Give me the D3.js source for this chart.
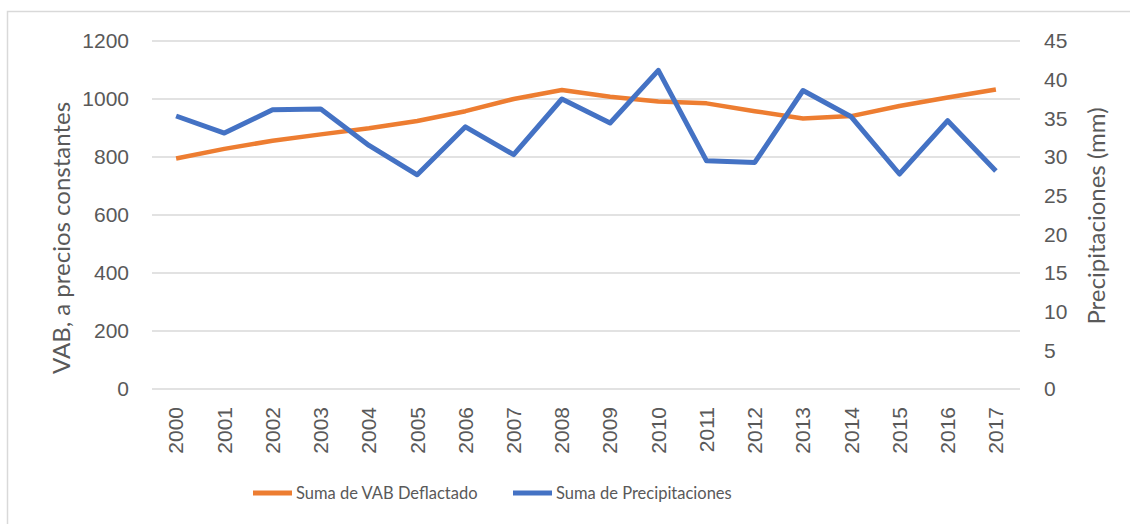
<!DOCTYPE html>
<html>
<head>
<meta charset="utf-8">
<script src="https://cdn.jsdelivr.net/npm/d3@7"></script>
<style>
  body { margin: 0; background: #fff; }
  svg { display: block; font-family: Lato, "Open Sans", sans-serif; }
  .tick text { fill: #595959; }
</style>
</head>
<body>
<div id="chart"></div>
<script>
var years = ['2000', '2001', '2002', '2003', '2004', '2005', '2006', '2007', '2008',
  '2009', '2010', '2011', '2012', '2013', '2014', '2015', '2016', '2017'];

// Suma de VAB Deflactado (left axis)
var vab = [795, 828, 856, 878, 899, 924, 958, 1000, 1031,
  1008, 991, 985, 958, 933, 941, 976, 1005, 1033];

// Suma de Precipitaciones, mm (right axis)
var precip = [35.3, 33.1, 36.1, 36.2, 31.5, 27.7, 33.9, 30.3, 37.5,
  34.4, 41.2, 29.5, 29.3, 38.6, 35.2, 27.8, 34.7, 28.2];

var leftTicks = [0, 200, 400, 600, 800, 1000, 1200];
var rightTicks = [0, 5, 10, 15, 20, 25, 30, 35, 40, 45];

var seriesNames = ['Suma de VAB Deflactado', 'Suma de Precipitaciones'];
var colors = ['#ED7D31', '#4472C4'];

var width = 1130;
var height = 524;
var plot = { left: 152, right: 1020, top: 41, bottom: 389 };

var svg = d3.select('#chart').append('svg')
  .attr('width', width)
  .attr('height', height);

// chart area border (runs off the right and bottom edge)
svg.append('rect')
  .attr('x', 7.5).attr('y', 11.5)
  .attr('width', 1200).attr('height', 600)
  .attr('fill', 'none')
  .attr('stroke', '#D9D9D9')
  .attr('stroke-width', 1.5);

var x = d3.scaleBand()
  .domain(years)
  .range([plot.left, plot.right]);

var yLeft = d3.scaleLinear()
  .domain([0, 1200])
  .range([plot.bottom, plot.top]);

var yRight = d3.scaleLinear()
  .domain([0, 45])
  .range([plot.bottom, plot.top]);

// gridlines
svg.append('g')
  .selectAll('line')
  .data(leftTicks)
  .enter().append('line')
  .attr('x1', plot.left).attr('x2', plot.right)
  .attr('y1', function (d) { return yLeft(d); })
  .attr('y2', function (d) { return yLeft(d); })
  .attr('stroke', '#D9D9D9')
  .attr('stroke-width', 1.5);

var leftAxis = d3.axisLeft(yLeft)
  .tickValues(leftTicks)
  .tickFormat(d3.format('d'))
  .tickSize(0)
  .tickPadding(23);

var rightAxis = d3.axisRight(yRight)
  .tickValues(rightTicks)
  .tickFormat(d3.format('d'))
  .tickSize(0)
  .tickPadding(24);

var bottomAxis = d3.axisBottom(x)
  .tickSize(0)
  .tickPadding(0);

var gl = svg.append('g')
  .attr('transform', 'translate(' + plot.left + ',0)')
  .call(leftAxis);
gl.select('.domain').remove();
gl.selectAll('text').attr('font-size', 21).attr('font-family', 'inherit');

var gr = svg.append('g')
  .attr('transform', 'translate(' + plot.right + ',0)')
  .call(rightAxis);
gr.select('.domain').remove();
gr.selectAll('text').attr('font-size', 21).attr('font-family', 'inherit');

var gb = svg.append('g')
  .attr('transform', 'translate(0,' + plot.bottom + ')')
  .call(bottomAxis);
gb.select('.domain').remove();
gb.selectAll('text')
  .attr('font-size', 21)
  .attr('font-family', 'inherit')
  .attr('transform', 'rotate(-90)')
  .attr('x', -18)
  .attr('y', 0)
  .attr('dy', '0.35em')
  .attr('text-anchor', 'end');

// axis titles
svg.append('text')
  .attr('transform', 'translate(70,238) rotate(-90)')
  .attr('text-anchor', 'middle')
  .attr('font-size', 24)
  .attr('fill', '#595959')
  .text('VAB, a precios constantes');

svg.append('text')
  .attr('transform', 'translate(1105,216) rotate(-90)')
  .attr('text-anchor', 'middle')
  .attr('font-size', 24)
  .attr('fill', '#595959')
  .text('Precipitaciones (mm)');

// lines
var cx = function (i) { return x(years[i]) + x.bandwidth() / 2; };

var lineLeft = d3.line()
  .x(function (d, i) { return cx(i); })
  .y(function (d) { return yLeft(d); });

var lineRight = d3.line()
  .x(function (d, i) { return cx(i); })
  .y(function (d) { return yRight(d); });

svg.append('path')
  .datum(vab)
  .attr('d', lineLeft)
  .attr('fill', 'none')
  .attr('stroke', colors[0])
  .attr('stroke-width', 4.5)
  .attr('stroke-linejoin', 'round');

svg.append('path')
  .datum(precip)
  .attr('d', lineRight)
  .attr('fill', 'none')
  .attr('stroke', colors[1])
  .attr('stroke-width', 5)
  .attr('stroke-linejoin', 'round');

// legend
var legendX = [253, 513];
var legend = svg.append('g').selectAll('g')
  .data(seriesNames)
  .enter().append('g')
  .attr('transform', function (d, i) { return 'translate(' + legendX[i] + ',493)'; });

legend.append('line')
  .attr('x1', 0).attr('x2', 39)
  .attr('y1', 0).attr('y2', 0)
  .attr('stroke', function (d, i) { return colors[i]; })
  .attr('stroke-width', 5);

legend.append('text')
  .attr('x', 43)
  .attr('dy', '0.35em')
  .attr('font-size', 16.5)
  .attr('fill', '#595959')
  .text(function (d) { return d; });
</script>
</body>
</html>
